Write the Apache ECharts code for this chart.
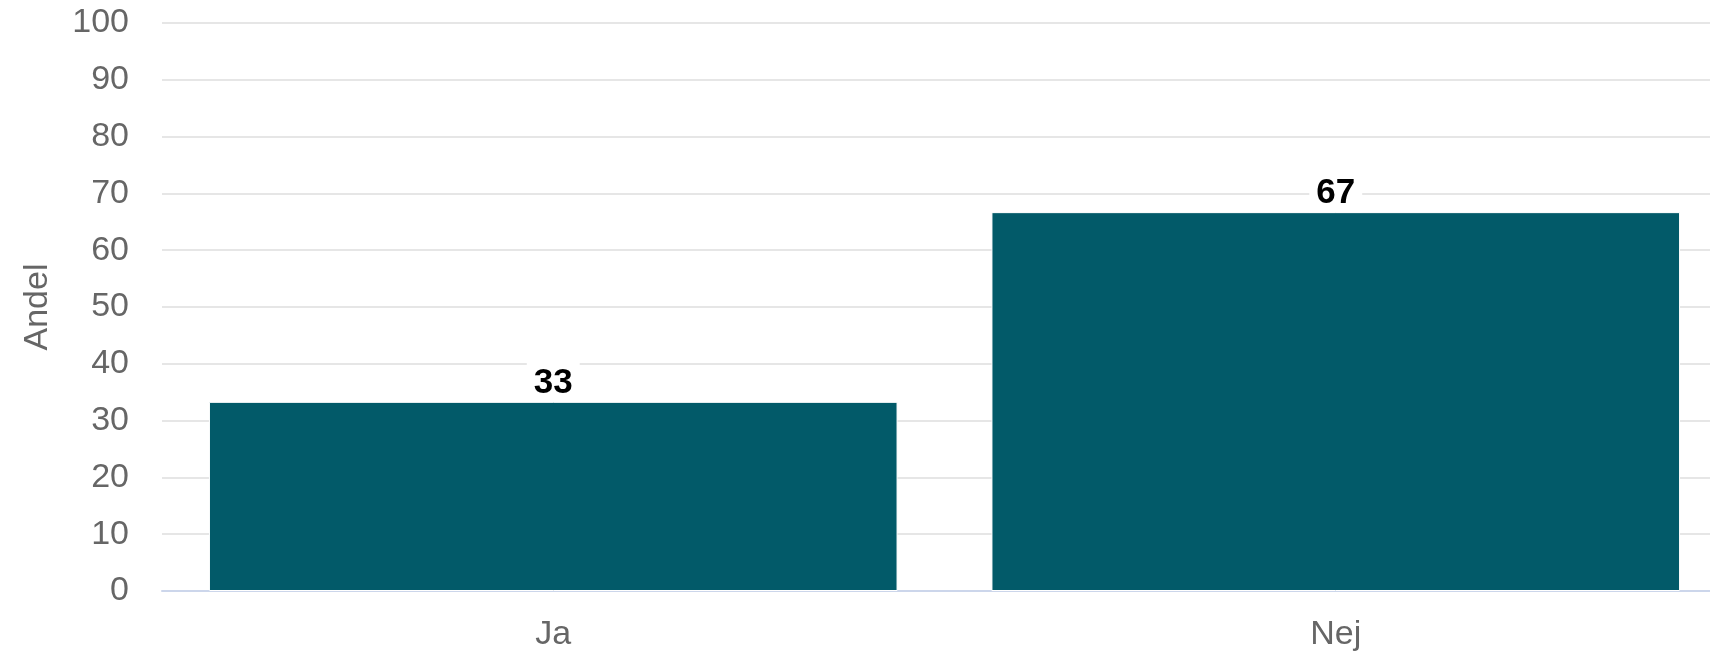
<!DOCTYPE html>
<html>
<head>
<meta charset="utf-8">
<script src="https://cdn.jsdelivr.net/npm/echarts@6/dist/echarts.min.js"></script>
<style>
  html, body { margin: 0; padding: 0; background: #fff; overflow: hidden; }
  .wrap { position: relative; width: 1710px; height: 652px; overflow: hidden; }
  /* plot area runs a little past the right edge of the picture */
  #chart { position: absolute; left: 0; top: 0; width: 1727px; height: 652px; }
</style>
</head>
<body>
<div class="wrap"><div id="chart"></div></div>
<script>
const categories = ['Ja', 'Nej'];
const andel = [33.3, 66.7];
const yTicks = { min: 0, max: 100, interval: 10 };

const chart = echarts.init(document.getElementById('chart'));
chart.setOption({
  animation: false,
  textStyle: { fontFamily: '"Liberation Sans", Arial, sans-serif' },
  grid: { left: 162, right: 0, top: 23, bottom: 57 },
  xAxis: {
    type: 'category',
    data: categories,
    axisTick: { show: false },
    axisLine: { lineStyle: { color: '#ccd6eb', width: 2 } },
    axisLabel: { color: '#666', fontSize: 34, margin: 27 },
  },
  yAxis: {
    type: 'value',
    min: yTicks.min,
    max: yTicks.max,
    interval: yTicks.interval,
    name: 'Andel',
    nameLocation: 'middle',
    nameGap: 107,
    nameTextStyle: { color: '#666', fontSize: 34 },
    axisLabel: { color: '#666', fontSize: 34, margin: 33 },
    splitLine: { lineStyle: { color: '#e6e6e6', width: 2 } },
  },
  series: [
    {
      type: 'bar',
      data: andel,
      barCategoryGap: '12%',
      itemStyle: { color: '#025a69', borderColor: '#fff', borderWidth: 1 },
      label: {
        show: true,
        position: 'top',
        distance: 0,
        formatter: (p) => Math.round(p.value),
        color: '#000',
        fontSize: 35,
        fontWeight: 'bold',
        backgroundColor: '#fff',
        padding: [9, 7, 1, 7],
      },
    },
  ],
});
</script>
</body>
</html>
